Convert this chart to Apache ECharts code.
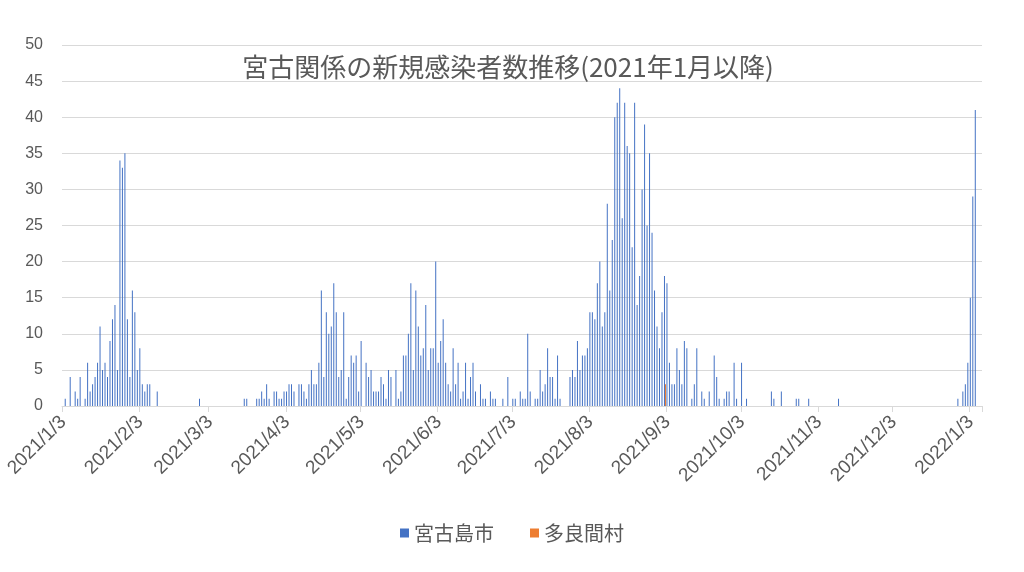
<!DOCTYPE html>
<html><head><meta charset="utf-8">
<script src="https://cdn.jsdelivr.net/npm/echarts/dist/echarts.min.js"></script>
<style>html,body{margin:0;padding:0;background:#fff}#c{width:1024px;height:572px}</style>
</head><body><div id="c"></div>
<script>
// Date range of the category axis
const firstDay = [2021, 1, 3];
const lastDay = [2022, 1, 7];

// 宮古島市 daily new cases, month by month (Jan 2021 starts on 1/3)
const miyako_2021_01 = [0,1,0,4,0,2,1,4,0,1,6,2,3,4,6,11,5,6,4,9,12,14,5,34,33,35,12,4,16];
const miyako_2021_02 = [13,5,8,3,2,3,3,0,0,2,0,0,0,0,0,0,0,0,0,0,0,0,0,0,0,0,1,0];
const miyako_2021_03 = [0,0,0,0,0,0,0,0,0,0,0,0,0,0,0,0,1,1,0,0,0,1,1,2,1,3,1,0,2,2,1];
const miyako_2021_04 = [1,2,2,3,3,2,0,3,3,2,1,3,5,3,3,6,16,4,13,10,11,17,13,4,5,13,1,4,7,6];
const miyako_2021_05 = [7,2,9,0,6,4,5,2,2,2,4,3,1,5,4,0,5,1,2,7,7,10,17,5,16,11,7,8,14,5,8];
const miyako_2021_06 = [8,20,6,9,12,6,3,2,8,3,6,1,2,6,1,4,6,2,0,3,1,1,0,2,1,1,0,0,1,0];
const miyako_2021_07 = [4,0,1,1,0,2,1,1,10,2,0,1,1,5,2,3,8,4,4,1,7,1,0,0,0,4,5,4,9,5,7];
const miyako_2021_08 = [7,8,13,13,12,17,20,11,13,28,16,23,40,42,44,26,42,36,35,22,42,14,18,30,39,25,35,24,16,11,8];
const miyako_2021_09 = [13,18,17,6,3,3,8,5,3,9,8,0,1,3,8,0,2,1,0,2,0,7,4,1,0,1,2,2,0,6];
const miyako_2021_10 = [1,0,6,0,1,0,0,0,0,0,0,0,0,0,2,1,0,0,2,0,0,0,0,0,1,1,0,0,0,1,0];
const miyako_2021_11 = [0,0,0,0,0,0,0,0,0,0,1,0,0,0,0,0,0,0,0,0,0,0,0,0,0,0,0,0,0,0];
const miyako_2021_12 = [0,0,0,0,0,0,0,0,0,0,0,0,0,0,0,0,0,0,0,0,0,0,0,0,0,0,0,0,1,0,2];
const miyako_2022_01 = [3,6,15,29,41,0,0];

// 多良間村 (only non-zero days)
const tarama = [['2021/9/2', 3]];

const seriesNames = ['宮古島市', '多良間村'];
const titleText = '宮古関係の新規感染者数推移(2021年1月以降)';
const yTicks = {min: 0, max: 50, step: 5};

// build categories
const cats = [];
let t = Date.UTC(firstDay[0], firstDay[1]-1, firstDay[2]);
const tEnd = Date.UTC(lastDay[0], lastDay[1]-1, lastDay[2]);
while (t <= tEnd) {
  const d = new Date(t);
  cats.push(d.getUTCFullYear() + '/' + (d.getUTCMonth()+1) + '/' + d.getUTCDate());
  t += 86400000;
}
const miyako = [].concat(miyako_2021_01, miyako_2021_02, miyako_2021_03, miyako_2021_04,
  miyako_2021_05, miyako_2021_06, miyako_2021_07, miyako_2021_08, miyako_2021_09,
  miyako_2021_10, miyako_2021_11, miyako_2021_12, miyako_2022_01);
const taramaMap = {};
tarama.forEach(p => taramaMap[p[0]] = p[1]);
const taramaData = cats.map(c => (c in taramaMap) ? taramaMap[c] : 0);

const isThird = (i, v) => v.split('/')[2] === '3';
const numFont = 'Liberation Sans, Arial, sans-serif';
const jpFont = 'Noto Sans CJK JP, sans-serif';

const chart = echarts.init(document.getElementById('c'), null, {renderer: 'canvas'});
chart.setOption({
  animation: false,
  backgroundColor: '#ffffff',
  title: {
    text: titleText,
    left: 503, top: 49, textAlign: 'center',
    textStyle: {fontSize: 26, fontWeight: 'normal', color: '#595959', fontFamily: jpFont}
  },
  legend: {
    data: seriesNames,
    top: 518, left: 'center',
    icon: 'rect', itemWidth: 9, itemHeight: 9, itemGap: 36,
    textStyle: {fontSize: 20, color: '#595959', fontFamily: jpFont}
  },
  grid: {left: 62, right: 42, top: 45, bottom: 166, containLabel: false},
  xAxis: {
    type: 'category', data: cats, boundaryGap: true,
    axisLine: {lineStyle: {color: '#d9d9d9', width: 1}},
    axisTick: {show: true, interval: isThird, length: 6, lineStyle: {color: '#d9d9d9'}},
    axisLabel: {interval: isThird, rotate: 45, margin: 13, fontSize: 19, color: '#595959', fontFamily: numFont},
    splitLine: {show: false}
  },
  yAxis: {
    type: 'value', min: yTicks.min, max: yTicks.max, interval: yTicks.step,
    axisLine: {show: false}, axisTick: {show: false},
    axisLabel: {fontSize: 16, color: '#595959', margin: 19, fontFamily: numFont},
    splitLine: {lineStyle: {color: '#d9d9d9', width: 1}}
  },
  series: [
    {name: seriesNames[0], type: 'bar', data: miyako, barWidth: 1, barGap: '0%',
     itemStyle: {color: '#4472C4'}},
    {name: seriesNames[1], type: 'bar', data: taramaData, barWidth: 1,
     itemStyle: {color: '#ED7D31'}}
  ]
});
</script></body></html>
